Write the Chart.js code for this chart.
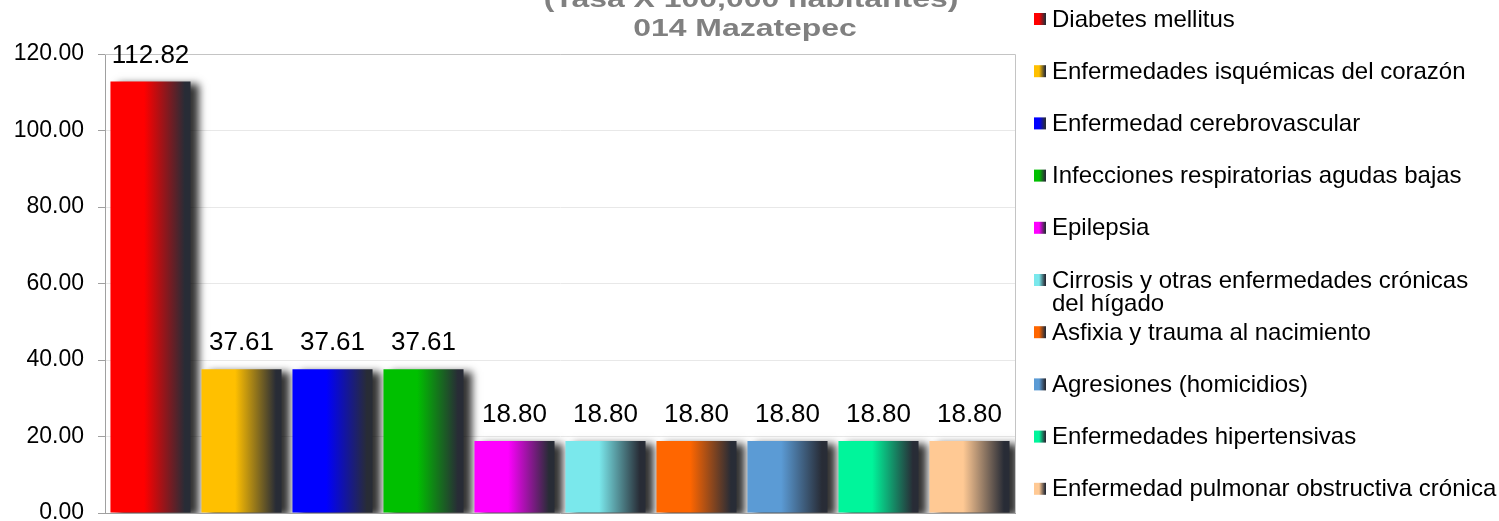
<!DOCTYPE html>
<html>
<head>
<meta charset="utf-8">
<script src="https://cdn.jsdelivr.net/npm/chart.js@4"></script>
<style>
  html, body { margin: 0; padding: 0; background: #fff; }
  #wrap { width: 1499px; height: 521px; }
</style>
</head>
<body>
<div id="wrap"><canvas id="mortChart" width="1499" height="521"></canvas></div>
<script>
// causas de mortalidad, tasa x 100,000 habitantes
const causas = [
  'Diabetes mellitus',
  'Enfermedades isquémicas del corazón',
  'Enfermedad cerebrovascular',
  'Infecciones respiratorias agudas bajas',
  'Epilepsia',
  ['Cirrosis y otras enfermedades crónicas', 'del hígado'],
  'Asfixia y trauma al nacimiento',
  'Agresiones (homicidios)',
  'Enfermedades hipertensivas',
  'Enfermedad pulmonar obstructiva crónica'
];
const tasas = [112.82, 37.61, 37.61, 37.61, 18.80, 18.80, 18.80, 18.80, 18.80, 18.80];
const colores = ['#ff0000', '#ffc000', '#0000ff', '#00c000', '#ff00ff', '#7ae8ec', '#ff6600', '#5b9bd5', '#00f59b', '#ffc994'];
const tituloLineas = ['(Tasa X 100,000 habitantes)', '014 Mazatepec'];

const FONT = "'Liberation Sans', Arial, sans-serif";
const DARK = '#282c36';
const BAR_PCT = 0.88;

function barGradient(ctx, x0, x1, base) {
  const g = ctx.createLinearGradient(x0, 0, x1, 0);
  g.addColorStop(0, base);
  g.addColorStop(0.42, base);
  g.addColorStop(0.93, DARK);
  g.addColorStop(1, DARK);
  return g;
}

// texto estirado a lo ancho, como en el original
function wideText(ctx, text, cx, cy, sx) {
  ctx.save();
  ctx.translate(cx, cy);
  ctx.scale(sx, 1);
  ctx.fillText(text, 0, 0);
  ctx.restore();
}

const decoPlugin = {
  id: 'deco',
  beforeDatasetDraw(chart) {
    const ctx = chart.ctx;
    ctx.save();
    ctx.shadowColor = 'rgba(0,0,0,0.8)';
    ctx.shadowBlur = 8;
    ctx.shadowOffsetX = 8;
    ctx.shadowOffsetY = 3;
  },
  afterDatasetDraw(chart) {
    chart.ctx.restore();
  },
  afterDraw(chart) {
    const ctx = chart.ctx;
    const area = chart.chartArea;
    ctx.save();
    // borde del area
    ctx.strokeStyle = '#c4c4c4';
    ctx.lineWidth = 1;
    ctx.beginPath();
    ctx.moveTo(area.left, area.top + 0.5);
    ctx.lineTo(area.right + 0.5, area.top + 0.5);
    ctx.lineTo(area.right + 0.5, area.bottom);
    ctx.stroke();

    // etiquetas de valor
    const meta = chart.getDatasetMeta(0);
    ctx.fillStyle = '#000';
    ctx.font = '26px ' + FONT;
    ctx.textAlign = 'center';
    ctx.textBaseline = 'middle';
    meta.data.forEach((bar, i) => {
      ctx.fillText(tasas[i].toFixed(2), bar.x, bar.y - 26);
    });

    // titulo (cortado arriba)
    ctx.fillStyle = '#808080';
    ctx.font = 'bold 24px ' + FONT;
    wideText(ctx, tituloLineas[0], 751, 0, 1.33);
    wideText(ctx, tituloLineas[1], 745, 29, 1.33);

    // leyenda
    ctx.textAlign = 'left';
    ctx.font = '24px ' + FONT;
    causas.forEach((c, i) => {
      const y = 19 + i * 52.2;
      ctx.fillStyle = barGradient(ctx, 1034, 1046, colores[i]);
      ctx.fillRect(1034, y - 6, 12, 12);
      ctx.fillStyle = '#000';
      const lines = Array.isArray(c) ? c : [c];
      lines.forEach((t, k) => ctx.fillText(t, 1052, y + 1 + k * 23));
    });
    ctx.restore();
  }
};

const ctx = document.getElementById('mortChart').getContext('2d');
const chart = new Chart(ctx, {
  type: 'bar',
  data: {
    labels: causas,
    datasets: [{
      data: tasas,
      backgroundColor: (c) => {
        const ch = c.chart;
        const xs = ch.scales.x;
        if (!xs || !ch.chartArea || c.dataIndex === undefined) return colores[c.dataIndex || 0];
        const cx = xs.getPixelForValue(c.dataIndex);
        const half = (xs.width / causas.length) * BAR_PCT / 2;
        return barGradient(ch.ctx, cx - half, cx + half, colores[c.dataIndex]);
      },
      borderWidth: 0,
      barPercentage: BAR_PCT,
      categoryPercentage: 1
    }]
  },
  options: {
    responsive: false,
    animation: false,
    devicePixelRatio: 1,
    layout: { padding: { left: 0, right: 484, top: 54, bottom: 8 } },
    plugins: {
      legend: { display: false },
      tooltip: { enabled: false }
    },
    scales: {
      x: {
        afterFit: (s) => { s.height = 0; },
        grid: { display: false },
        ticks: { display: false },
        border: { color: '#a0a0a0' }
      },
      y: {
        min: 0,
        max: 120,
        afterFit: (s) => {
          s.width = 105;
          s.paddingTop = 0;
          s.paddingBottom = 0;
        },
        ticks: {
          stepSize: 20,
          padding: 14,
          color: '#000',
          font: { family: FONT, size: 23 },
          callback: (v) => v.toFixed(2)
        },
        grid: { color: '#e8e8e8', tickColor: '#a0a0a0', tickLength: 7 },
        border: { color: '#a0a0a0' }
      }
    }
  },
  plugins: [decoPlugin]
});
</script>
</body>
</html>
